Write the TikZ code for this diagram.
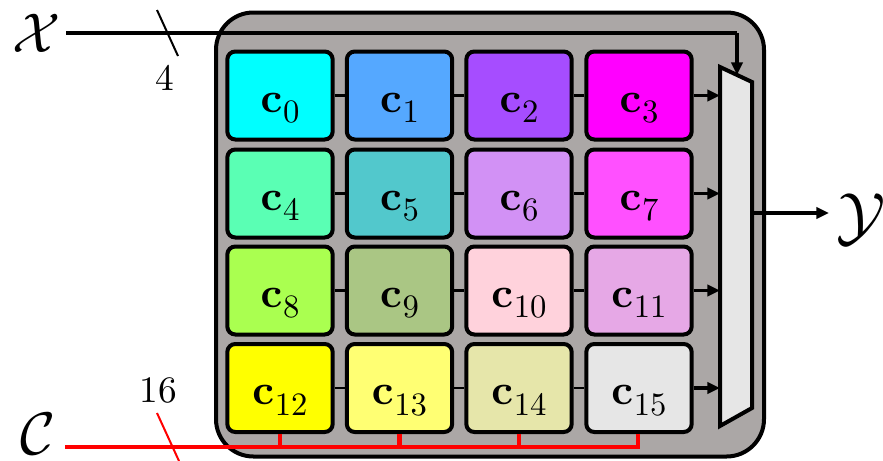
\documentclass[tikz,border=0pt]{standalone}
\usepackage{amsmath}
\usepackage{graphicx}
\usetikzlibrary{arrows.meta}
\definecolor{boxgrey}{HTML}{ABA7A6}
\definecolor{muxgrey}{HTML}{E6E6E6}
\definecolor{k0}{HTML}{00FFFF}
\definecolor{k1}{HTML}{55A8FF}
\definecolor{k2}{HTML}{A64DFF}
\definecolor{k3}{HTML}{FF00FF}
\definecolor{k4}{HTML}{5AFFB4}
\definecolor{k5}{HTML}{52C8CC}
\definecolor{k6}{HTML}{D291F5}
\definecolor{k7}{HTML}{FF50FF}
\definecolor{k8}{HTML}{AAFF50}
\definecolor{k9}{HTML}{AAC684}
\definecolor{k10}{HTML}{FFD2DC}
\definecolor{k11}{HTML}{E6A8E6}
\definecolor{k12}{HTML}{FFFF00}
\definecolor{k13}{HTML}{FFFF73}
\definecolor{k14}{HTML}{E6E6AA}
\definecolor{k15}{HTML}{E6E6E6}
\newcommand{\cellname}[1]{\raisebox{-12.5pt}[0pt][0pt]{\scalebox{3.2}{$\mathbf{c}$}\kern0.5pt\raisebox{-8pt}{\scalebox{2.45}{$#1$}}}}
\tikzset{
  cellbox/.style={draw=black, line width=3pt, rounded corners=6pt,
    minimum width=79pt, minimum height=66pt, inner sep=0pt},
  link/.style={line width=2.2pt},
  arr/.style={line width=2.6pt, -{Triangle[length=9.5pt,width=8.5pt]}},
  redbus/.style={draw=red, line width=3.2pt},
  slash/.style={line width=1.5pt},
  biglabel/.style={inner sep=0pt},
  numlabel/.style={inner sep=0pt},
}
\begin{document}
\begin{tikzpicture}[x=0.75pt,y=-0.75pt]
\useasboundingbox (0,0) rectangle (883,461);
% outer box
\node[draw=black, fill=boxgrey, line width=3pt, rounded corners=28pt,
  minimum width=411pt, minimum height=333pt, inner sep=0pt] (outer) at (490,234.5) {};
% cells
\foreach \i/\x/\y in {0/280/95.5,1/399.5/95.5,2/519/95.5,3/639/95.5,
  4/280/193.5,5/399.5/193.5,6/519/193.5,7/639/193.5,
  8/280/290.5,9/399.5/290.5,10/519/290.5,11/639/290.5,
  12/280/388,13/399.5/388,14/519/388,15/639/388}{
  \node[cellbox, fill=k\i] (c\i) at (\x,\y) {\cellname{\i}};
}
% horizontal links
\foreach \a/\b in {0/1,1/2,2/3,4/5,5/6,6/7,8/9,9/10,10/11,12/13,13/14,14/15}{
  \draw[link] (c\a.east) -- (c\b.west);
}
% mux
\coordinate (mTL) at (720,67);
\coordinate (mTR) at (752,82);
\coordinate (mBR) at (752,408);
\coordinate (mBL) at (720,426);
\draw[fill=muxgrey, line width=3pt, line join=miter] (mTL) -- (mTR) -- (mBR) -- (mBL) -- cycle;
\foreach \i in {3,7,11,15}{
  \draw[arr] (c\i.east) -- (c\i.east -| mTL);
}
% X input
\node[biglabel] (X) at (37,33) {\scalebox{4.2}{$\mathcal{X}$}};
\coordinate (xs) at (66,33);
\coordinate (xc) at (737,33);
\coordinate (xe) at (737,75);
\draw[line width=3.2pt] (xs) -- (xc);
\draw[arr] (xc) -- (xe);
\coordinate (s1a) at (157,10);
\coordinate (s1b) at (178,56);
\draw[slash] (s1a) -- (s1b);
\node[numlabel] (n4) at (165,78) {\scalebox{2.8}{4}};
% Y output
\coordinate (ys) at (752,213);
\coordinate (ye) at (829,213);
\draw[arr] (ys) -- (ye);
\node[biglabel] (Y) at (861,219) {\scalebox{4.9}{$\mathcal{Y}$}};
% C input
\node[biglabel] (C) at (38,434) {\scalebox{4.5}{$\mathcal{C}$}};
\coordinate (cs) at (65,447);
\coordinate (ce) at (638,447);
\foreach \i in {12,13,14}{
  \draw[redbus] (c\i.south) -- (c\i.south |- cs);
}
\draw[redbus, line join=miter] (cs) -- (ce) -- (c15.south -| ce);
\coordinate (s2a) at (157,413);
\coordinate (s2b) at (179,461);
\draw[slash, red] (s2a) -- (s2b);
\node[numlabel] (n16) at (158,390) {\scalebox{2.8}{16}};
\end{tikzpicture}
\end{document}
